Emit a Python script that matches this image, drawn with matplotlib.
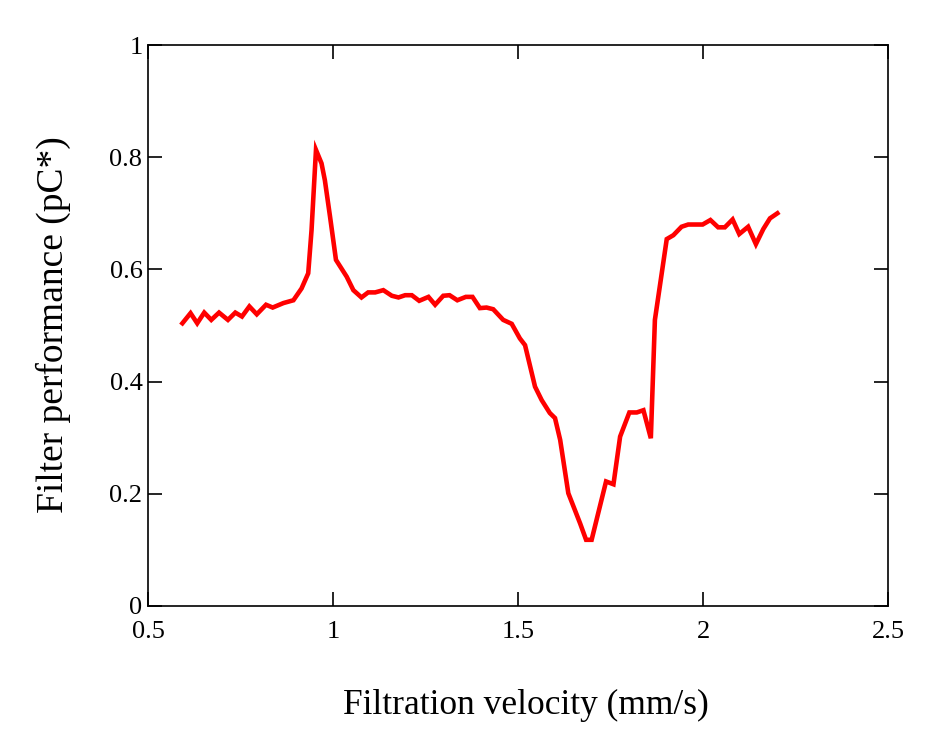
import matplotlib
matplotlib.use('Agg')
import matplotlib.pyplot as plt

# filtration velocity (mm/s) and filter performance (pC*)
velocity = [0.593, 0.615, 0.633, 0.652, 0.671, 0.692, 0.716, 0.736, 0.754, 0.774,
            0.794, 0.819, 0.837, 0.866, 0.893, 0.915, 0.933, 0.942, 0.954, 0.969,
            0.978, 0.992, 1.008, 1.037, 1.055, 1.077, 1.095, 1.114, 1.136, 1.159,
            1.177, 1.195, 1.213, 1.233, 1.258, 1.276, 1.298, 1.315, 1.336, 1.359,
            1.377, 1.397, 1.415, 1.433, 1.460, 1.483, 1.505, 1.519, 1.546, 1.564,
            1.586, 1.600, 1.614, 1.636, 1.668, 1.684, 1.699, 1.738, 1.758, 1.776,
            1.801, 1.821, 1.839, 1.859, 1.870, 1.902, 1.920, 1.942, 1.960, 1.999,
            2.020, 2.041, 2.059, 2.080, 2.098, 2.122, 2.143, 2.163, 2.181, 2.201]
performance = [0.504, 0.522, 0.504, 0.523, 0.510, 0.523, 0.510, 0.523, 0.516, 0.534,
               0.520, 0.537, 0.532, 0.540, 0.545, 0.566, 0.593, 0.670, 0.813, 0.789,
               0.759, 0.694, 0.617, 0.587, 0.563, 0.550, 0.559, 0.559, 0.563, 0.553,
               0.550, 0.554, 0.554, 0.544, 0.551, 0.537, 0.553, 0.554, 0.545, 0.551,
               0.551, 0.531, 0.532, 0.529, 0.510, 0.503, 0.477, 0.465, 0.391, 0.367,
               0.344, 0.335, 0.296, 0.201, 0.147, 0.118, 0.118, 0.222, 0.217, 0.302,
               0.345, 0.345, 0.349, 0.299, 0.510, 0.654, 0.661, 0.676, 0.680, 0.680,
               0.688, 0.675, 0.675, 0.689, 0.663, 0.676, 0.645, 0.672, 0.691, 0.700]

xticks = [0.5, 1, 1.5, 2, 2.5]
xticklabels = ['0.5', '1', '1.5', '2', '2.5']
yticks = [0, 0.2, 0.4, 0.6, 0.8, 1]
yticklabels = ['0', '0.2', '0.4', '0.6', '0.8', '1']

plt.rcParams['font.family'] = ['Liberation Serif', 'DejaVu Serif']

fig = plt.figure(figsize=(9.41, 7.42), dpi=100)
ax = fig.add_axes([148/941, 136/742, 740/941, 561/742])
ax.plot(velocity, performance, color='#ff0000', linewidth=3.3, solid_joinstyle='miter')

ax.set_xlim(0.5, 2.5)
ax.set_ylim(0, 1)
ax.set_xticks(xticks)
ax.set_xticklabels(xticklabels)
ax.set_yticks(yticks)
ax.set_yticklabels(yticklabels)
ax.tick_params(direction='in', length=10, width=1.2, labelsize=19,
               top=True, right=True)
ax.tick_params(axis='x', pad=11)
ax.tick_params(axis='y', pad=4)
for s in ax.spines.values():
    s.set_linewidth(1.2)

ax.set_xlabel('Filtration velocity (mm/s)', fontsize=25.5)
ax.set_ylabel('Filter performance (pC*)', fontsize=27)
ax.xaxis.set_label_coords(0.511, -0.148)
ax.yaxis.set_label_coords(-0.104, 0.501)

fig.savefig('out.png', dpi=100)
